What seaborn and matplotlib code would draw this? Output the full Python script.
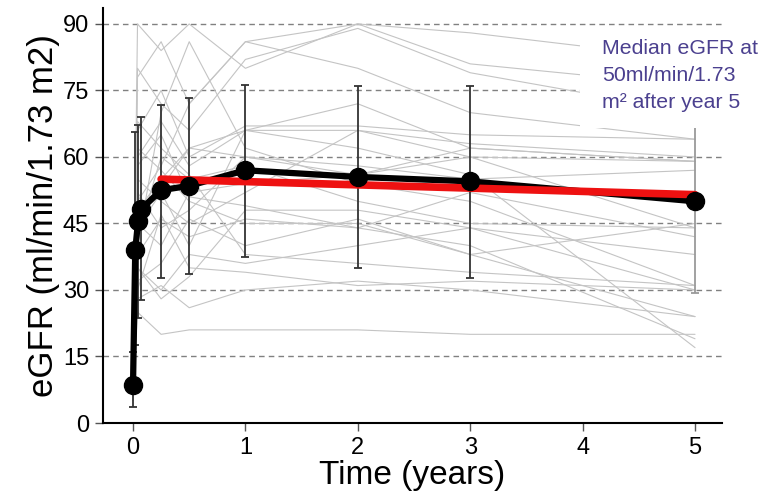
import pandas as pd
import numpy as np
import matplotlib
matplotlib.use("Agg")
import matplotlib.pyplot as plt
from matplotlib.patches import Rectangle
import seaborn as sns

# zaman noktalari (yil) - bireysel hastalar
zamanlar = [0, 0.04, 0.25, 0.5, 1, 2, 3, 5]

# bireysel hasta eGFR degerleri (gri ince cizgiler)
hasta_degerleri = [
    [10, 90, 84, 90, 80, 90, 88, 82],
    [6, 78, 86, 72, 86, 90, 81, 76],
    [12, 80, 72, 66, 82, 89, 79, 70],
    [9, 66, 75, 60, 67, 67, 65, 64],
    [7, 60, 68, 58, 66, 66, 63, 60],
    [11, 55, 50, 45, 52, 66, 60, 59],
    [8, 48, 55, 62, 60, 58, 55, 57],
    [5, 45, 40, 52, 54, 56, 62, 59],
    [10, 42, 60, 55, 58, 50, 45, 44],
    [7, 38, 46, 42, 46, 44, 52, 42],
    [9, 35, 30, 38, 36, 40, 44, 38],
    [6, 30, 47, 35, 34, 31, 32, 30],
    [12, 28, 31, 26, 30, 32, 30, 24],
    [8, 25, 20, 21, 21, 21, 20, 20],
    [10, 32, 36, 46, 40, 46, 38, 24],
    [7, 50, 58, 72, 86, 80, 70, 64],
    [9, 40, 70, 86, 62, 54, 50, 31],
    [8, 44, 52, 40, 66, 62, 56, 17],
    [6, 35, 28, 33, 48, 48, 44, 30],
    [11, 58, 65, 51, 49, 44, 40, 19],
    [8, 68, 62, 56, 38, 36, 34, 31],
    [10, 52, 44, 48, 60, 56, 60, 44],
    [7, 46, 53, 62, 66, 72, 62, 59],
    [9, 62, 57, 50, 45, 45, 38, 45],
]

# medyan egrisi ve hata cubuklari
medyan_zaman = [0, 0.02, 0.045, 0.075, 0.25, 0.5, 1, 2, 3, 5]
medyan_egfr = [8.5, 39, 45.5, 48.3, 52.5, 53.5, 57, 55.5, 54.5, 50]
alt_sinir = [3.6, 17.6, 23.7, 27.8, 32.8, 33.6, 37.5, 35, 32.7, 29.3]
ust_sinir = [16, 65.7, 67.3, 69, 71.8, 73.3, 76.3, 76, 76.1, 76]

# egilim cizgisi (kirmizi)
egilim_zaman = [0.25, 5]
egilim_egfr = [55, 51.5]

x_ticks = [0, 1, 2, 3, 4, 5]
y_ticks = [0, 15, 30, 45, 60, 75, 90]

rows = []
for i, degerler in enumerate(hasta_degerleri):
    for t, v in zip(zamanlar, degerler):
        rows.append({"hasta": i, "zaman": t, "egfr": v})
df = pd.DataFrame(rows)

sns.set_style("white")
plt.rcParams["font.family"] = ["Liberation Sans", "DejaVu Sans"]

fig = plt.figure(figsize=(7.63, 5.03), dpi=100)
ax = fig.add_axes([103 / 763, 1 - 423 / 503, (722 - 103) / 763, (423 - 8) / 503])

# yatay kesikli cizgiler
for y in y_ticks[1:]:
    ax.axhline(y, color="#808080", linestyle=(0, (4, 3)), linewidth=1.0, zorder=1)

sns.lineplot(data=df, x="zaman", y="egfr", units="hasta", estimator=None,
             color="#c4c4c4", linewidth=0.8, ax=ax, zorder=2, legend=False)

medyan = np.array(medyan_egfr)
yerr = [medyan - np.array(alt_sinir), np.array(ust_sinir) - medyan]
renkler = ["#333333"] * (len(medyan_zaman) - 1) + ["#9a9a9a"]
for i in range(len(medyan_zaman)):
    ax.errorbar([medyan_zaman[i]], [medyan_egfr[i]],
                yerr=[[yerr[0][i]], [yerr[1][i]]], fmt="none",
                ecolor=renkler[i], elinewidth=1.3, capsize=3, capthick=1.3, zorder=3)

sns.lineplot(x=medyan_zaman, y=medyan_egfr, color="black", linewidth=4.5,
             ax=ax, zorder=4, sort=False)
sns.lineplot(x=egilim_zaman, y=egilim_egfr, color="#ee1111", linewidth=5.5,
             ax=ax, zorder=5)
ax.plot(medyan_zaman, medyan_egfr, linestyle="none", marker="o",
        markersize=13, color="black", zorder=6)

ax.set_xlim(-0.267, 5.24)
ax.set_ylim(0, 93.6)
ax.set_xticks(x_ticks)
ax.set_yticks(y_ticks)
ax.tick_params(axis="both", labelsize=17, length=6, width=1, color="#555555",
               labelcolor="black", direction="out", left=True, bottom=True, pad=4)
ax.set_xlabel("Time (years)", fontsize=24, labelpad=1, color="black")
ax.set_ylabel("eGFR (ml/min/1.73 m2)", fontsize=25, labelpad=2, color="black")

for s in ["top", "right"]:
    ax.spines[s].set_visible(False)
for s in ["left", "bottom"]:
    ax.spines[s].set_color("black")
    ax.spines[s].set_linewidth(1.5)

# not kutusu
fig.patches.append(Rectangle((580 / 763, 1 - 128 / 503), 1 - 580 / 763, (128 - 32) / 503,
                             transform=fig.transFigure, facecolor="white",
                             edgecolor="none", zorder=10))
fig.text(602 / 763, 1 - 39 / 503, "Median eGFR at\n50ml/min/1.73\nm² after year 5",
         color="#4b408f", fontsize=15.3, va="top", ha="left", linespacing=1.55, zorder=11)

plt.savefig("out.png", dpi=100)
